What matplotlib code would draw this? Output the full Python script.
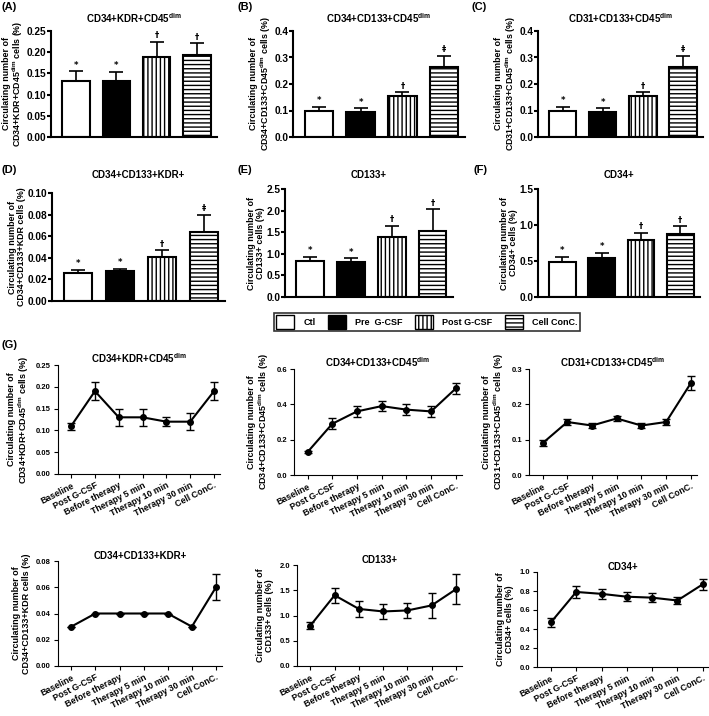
import matplotlib
matplotlib.use('Agg')
import matplotlib.pyplot as plt
from matplotlib.patches import Patch
import numpy as np

plt.rcParams['font.family'] = ['Liberation Sans', 'DejaVu Sans']
plt.rcParams['font.weight'] = 'bold'
plt.rcParams['mathtext.fontset'] = 'custom'
plt.rcParams['mathtext.rm'] = 'Liberation Sans:bold'
plt.rcParams['mathtext.bf'] = 'Liberation Sans:bold'
plt.rcParams['mathtext.it'] = 'Liberation Sans:bold'
plt.rcParams['hatch.linewidth'] = 1.0

# bar charts (A)-(F)
groups = ['Ctl', 'Pre  G-CSF', 'Post G-CSF', 'Cell ConC.']
bar_titles = [r'CD34+KDR+CD45$^{dim}$', r'CD34+CD133+CD45$^{dim}$', r'CD31+CD133+CD45$^{dim}$',
              'CD34+CD133+KDR+', 'CD133+', 'CD34+']
bar_ylabels = ['Circulating number of\n' + r'CD34+KDR+CD45$^{dim}$ cells (%)',
               'Circulating number of\n' + r'CD34+CD133+CD45$^{dim}$ cells (%)',
               'Circulating number of\n' + r'CD31+CD133+CD45$^{dim}$ cells (%)',
               'Circulating number of\nCD34+CD133+KDR cells (%)',
               'Circulating number of\nCD133+ cells (%)',
               'Circulating number of\nCD34+ cells (%)']
bar_vals = [[0.133, 0.131, 0.188, 0.194],
            [0.099, 0.096, 0.153, 0.264],
            [0.099, 0.096, 0.153, 0.264],
            [0.0255, 0.0275, 0.041, 0.064],
            [0.83, 0.82, 1.40, 1.53],
            [0.48, 0.54, 0.79, 0.87]]
bar_errs = [[0.022, 0.023, 0.036, 0.027],
            [0.016, 0.012, 0.016, 0.042],
            [0.016, 0.012, 0.016, 0.042],
            [0.0035, 0.0025, 0.006, 0.016],
            [0.10, 0.08, 0.25, 0.50],
            [0.08, 0.07, 0.10, 0.11]]
bar_marks = [['*', '*', '†', '†'],
             ['*', '*', '†', '‡'],
             ['*', '*', '†', '‡'],
             ['*', '*', '†', '‡'],
             ['*', '*', '†', '†'],
             ['*', '*', '†', '†']]
bar_ylims = [(0.25, 0.05, '%.2f'), (0.4, 0.1, '%.1f'), (0.4, 0.1, '%.1f'),
             (0.10, 0.02, '%.2f'), (2.5, 0.5, '%.1f'), (1.5, 0.5, '%.1f')]
bar_title_pads = [6, 6, 6, 11, 8, 8]

# line charts (G)
timepoints = ['Baseline', 'Post G-CSF', 'Before therapy', 'Therapy 5 min',
              'Therapy 10 min', 'Therapy 30 min', 'Cell ConC.']
line_vals = [[0.11, 0.19, 0.13, 0.13, 0.12, 0.12, 0.19],
             [0.13, 0.29, 0.36, 0.39, 0.37, 0.36, 0.49],
             [0.09, 0.15, 0.14, 0.16, 0.14, 0.15, 0.26],
             [0.03, 0.04, 0.04, 0.04, 0.04, 0.03, 0.06],
             [0.80, 1.40, 1.13, 1.08, 1.10, 1.20, 1.52],
             [0.47, 0.79, 0.77, 0.74, 0.73, 0.70, 0.87]]
line_errs = [[0.008, 0.02, 0.02, 0.02, 0.01, 0.02, 0.02],
             [0.005, 0.03, 0.03, 0.03, 0.03, 0.03, 0.03],
             [0.008, 0.008, 0.008, 0.008, 0.008, 0.008, 0.02],
             [0.0, 0.0, 0.0, 0.0, 0.0, 0.0, 0.01],
             [0.07, 0.15, 0.15, 0.15, 0.15, 0.25, 0.30],
             [0.05, 0.06, 0.05, 0.05, 0.05, 0.04, 0.06]]
line_ylims = [(0.25, 0.05, '%.2f'), (0.6, 0.2, '%.1f'), (0.3, 0.1, '%.1f'),
              (0.08, 0.02, '%.2f'), (2.0, 0.5, '%.1f'), (1.0, 0.2, '%.1f')]

fig = plt.figure(figsize=(7.09, 7.16), dpi=100)
W, H = 709.0, 716.0

def ax_px(l, t, r, b):
    return fig.add_axes([l / W, 1 - b / H, (r - l) / W, (b - t) / H])

bar_pos = [(51, 31, 217, 137), (293, 31, 465, 137), (538, 31, 703, 137),
           (52, 193, 225, 301), (285, 189, 453, 297), (538, 189, 700, 297)]
fills = ['white', 'black', 'white', 'white']
hatches = [None, None, '||||', '----']

for i in range(6):
    ax = ax_px(*bar_pos[i])
    x = np.arange(4)
    ax.bar(x, bar_vals[i], width=0.68, color=fills, edgecolor='black',
           hatch=hatches, linewidth=1.5)
    ax.errorbar(x, bar_vals[i], yerr=[np.zeros(4), bar_errs[i]], fmt='none',
                ecolor='black', elinewidth=1.2, capsize=5, capthick=1.2)
    top, step, fmt = bar_ylims[i]
    for j in range(4):
        ax.text(x[j], bar_vals[i][j] + bar_errs[i][j] + top * 0.015, bar_marks[i][j],
                ha='center', va='bottom', fontsize=6, family=['DejaVu Sans'])
    ax.set_xlim(-0.62, 3.5)
    ax.set_ylim(0, top)
    ax.set_yticks(np.arange(0, top + step / 2, step))
    ax.yaxis.set_major_formatter(matplotlib.ticker.FormatStrFormatter(fmt))
    ax.set_xticks([])
    for s in ['top', 'right']:
        ax.spines[s].set_visible(False)
    for s in ['left', 'bottom']:
        ax.spines[s].set_linewidth(1.5)
    ax.tick_params(axis='y', labelsize=7.3, width=1.5, length=3, pad=0.5)
    for lab in ax.get_yticklabels():
        lab.set_fontweight('bold')
    ax.set_title(bar_titles[i], fontsize=7, fontweight='bold', pad=bar_title_pads[i])
    ax.set_ylabel(bar_ylabels[i], fontsize=6.4, fontweight='bold', labelpad=1,
                  linespacing=1.0)

line_pos = [(58, 365, 220, 474), (294, 369, 462, 475), (529, 369, 697, 475),
            (58, 561, 222, 666), (297, 565, 462, 666), (537, 572, 709, 667)]

for i in range(6):
    ax = ax_px(*line_pos[i])
    x = np.arange(7)
    ax.errorbar(x, line_vals[i], yerr=line_errs[i], color='black', lw=1.5,
                marker='o', ms=4, capsize=3, elinewidth=1, capthick=1)
    top, step, fmt = line_ylims[i]
    ax.set_xlim(-0.55, 6.25)
    ax.set_ylim(0, top)
    ax.set_yticks(np.arange(0, top + step / 2, step))
    ax.yaxis.set_major_formatter(matplotlib.ticker.FormatStrFormatter(fmt))
    ax.set_xticks(x)
    ax.set_xticklabels(timepoints, rotation=27, ha='right', rotation_mode='anchor',
                       fontsize=6.3, fontweight='bold')
    for s in ['top', 'right']:
        ax.spines[s].set_visible(False)
    ax.tick_params(axis='y', labelsize=5.5, length=3, pad=2)
    ax.tick_params(axis='x', length=3, pad=2)
    for lab in ax.get_yticklabels():
        lab.set_fontweight('bold')
    ax.set_title(bar_titles[i], fontsize=7, fontweight='bold', pad=1)
    ax.set_ylabel(bar_ylabels[i], fontsize=6.5, fontweight='bold', labelpad=4,
                  linespacing=1.05)

# panel labels
for lab, (px, py) in zip(['(A)', '(B)', '(C)', '(D)', '(E)', '(F)', '(G)'],
                         [(2, 7), (237, 7), (472, 7), (2, 170), (237, 170),
                          (474, 170), (2, 345)]):
    fig.text(px / W, 1 - py / H, lab, fontsize=8, fontweight='bold', va='center')

handles = [Patch(facecolor=fills[k], edgecolor='black', hatch=hatches[k], linewidth=1)
           for k in range(4)]
leg = fig.legend(handles, groups, loc='upper left', bbox_to_anchor=(274 / W, 1 - 313 / H),
                 ncol=4, fontsize=6.5, frameon=True, fancybox=False, edgecolor='black',
                 handlelength=2.0, handleheight=2.0, columnspacing=1.4,
                 handletextpad=1.0, borderpad=0.25, borderaxespad=0)
leg.get_frame().set_linewidth(1.2)
for t in leg.get_texts():
    t.set_fontweight('bold')

fig.savefig('out.png', dpi=100)
